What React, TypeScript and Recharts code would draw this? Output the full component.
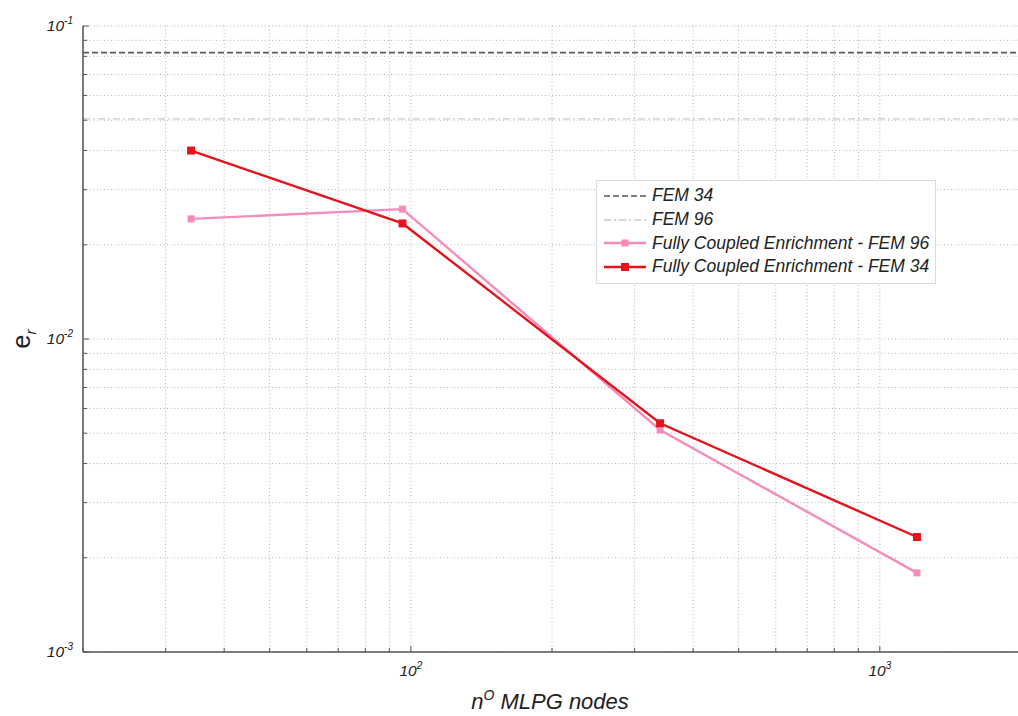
import React from 'react';
import { LineChart, Line, XAxis, YAxis, CartesianGrid, Legend, Label } from 'recharts';

// number of MLPG nodes and the relative error e_r
const nodes = [34, 96, 340, 1200];
const fce96 = [0.0242, 0.026, 0.00512, 0.00179];
const fce34 = [0.04, 0.0234, 0.00538, 0.00233];

// FEM references are flat lines over the whole x range
const xRange = [20, 2000];
const fem34 = [0.0822, 0.0822];
const fem96 = [0.0505, 0.0505];

const xTicks = [20, 30, 40, 50, 60, 70, 80, 90, 100, 200, 300, 400, 500, 600, 700, 800, 900, 1000, 2000];
const yTicks = [
  0.001, 0.002, 0.003, 0.004, 0.005, 0.006, 0.007, 0.008, 0.009,
  0.01, 0.02, 0.03, 0.04, 0.05, 0.06, 0.07, 0.08, 0.09, 0.1,
];
const xMajorTicks = [100, 1000];
const xMajorExp = ['2', '3'];
const yMajorTicks = [0.001, 0.01, 0.1];
const yMajorExp = ['-3', '-2', '-1'];

const FONT = '"Liberation Sans", Arial, sans-serif';
const AXIS = '#555';

const toPoints = (xs: number[], ys: number[]) => xs.map((x, i) => ({ x, y: ys[i] }));

const SERIES = [
  { key: 'fem34', name: 'FEM 34', data: toPoints(xRange, fem34), color: '#5a5a5a', width: 1.6, dash: '6 3', marker: 0 },
  { key: 'fem96', name: 'FEM 96', data: toPoints(xRange, fem96), color: '#d6c6cf', width: 1.4, dash: '7 3 2 3', marker: 0 },
  { key: 'fce96', name: 'Fully Coupled Enrichment - FEM 96', data: toPoints(nodes, fce96), color: '#f58cba', width: 2.4, dash: undefined, marker: 7 },
  { key: 'fce34', name: 'Fully Coupled Enrichment - FEM 34', data: toPoints(nodes, fce34), color: '#e3141c', width: 2.4, dash: undefined, marker: 8 },
];

const squareDot = (size: number, color: string) => (props: any) => {
  const { cx, cy, index } = props;
  if (cx == null || cy == null) return <g key={index} />;
  return <rect key={index} x={cx - size / 2} y={cy - size / 2} width={size} height={size} fill={color} />;
};

const BottomTick = ({ x, y, payload }: any) => {
  const i = xMajorTicks.indexOf(payload.value);
  return (
    <g>
      <line x1={x} x2={x} y1={y} y2={y - (i >= 0 ? 6 : 4)} stroke={AXIS} />
      {i >= 0 && (
        <text x={x} y={y + 24} textAnchor="middle" fontSize={15.5} fontStyle="italic" fill="#222" fontFamily={FONT}>
          10<tspan dy={-7} fontSize={10}>{xMajorExp[i]}</tspan>
        </text>
      )}
    </g>
  );
};

const TopTick = ({ x, y, payload }: any) => {
  const major = xMajorTicks.includes(payload.value);
  return <line x1={x} x2={x} y1={y} y2={y + (major ? 6 : 4)} stroke={AXIS} />;
};

const LeftTick = ({ x, y, payload }: any) => {
  const i = yMajorTicks.indexOf(payload.value);
  return (
    <g>
      <line x1={x} x2={x + (i >= 0 ? 6 : 4)} y1={y} y2={y} stroke={AXIS} />
      {i >= 0 && (
        <text x={x - 10} y={y + 5} textAnchor="end" fontSize={15.5} fontStyle="italic" fill="#222" fontFamily={FONT}>
          10<tspan dy={-7} fontSize={10}>{yMajorExp[i]}</tspan>
        </text>
      )}
    </g>
  );
};

const LegendBox = () => (
  <div
    style={{
      border: '1px solid #dcdcdc',
      background: '#fff',
      padding: '3px 6px 4px 6px',
      fontFamily: FONT,
      fontStyle: 'italic',
      fontSize: 17.5,
      color: '#222',
    }}
  >
    {SERIES.map((s) => (
      <div key={s.key} style={{ display: 'flex', alignItems: 'center', height: 23.7 }}>
        <svg width={44} height={20} style={{ marginRight: 5 }}>
          <line x1={1} x2={43} y1={10} y2={10} stroke={s.color} strokeWidth={s.width} strokeDasharray={s.dash} />
          {s.marker > 0 && (
            <rect x={22 - s.marker / 2} y={10 - s.marker / 2} width={s.marker} height={s.marker} fill={s.color} />
          )}
        </svg>
        <span>{s.name}</span>
      </div>
    ))}
  </div>
);

export default function App() {
  return (
    <div style={{ position: 'absolute', left: 0, top: 0, width: 1018, height: 716, overflow: 'hidden', background: '#fff' }}>
      <LineChart width={1030} height={716} margin={{ top: 26, right: 9, left: 0, bottom: 0 }}>
        <CartesianGrid stroke="#b4b4b4" strokeDasharray="1 2.5" />
        <XAxis
          dataKey="x"
          type="number"
          scale="log"
          domain={[20, 2000]}
          allowDataOverflow
          ticks={xTicks}
          interval={0}
          height={64}
          tickSize={0}
          tickMargin={0}
          tickLine={false}
          axisLine={{ stroke: AXIS, strokeWidth: 1.5 }}
          tick={<BottomTick />}
        >
          <Label
            content={({ viewBox }: any) => (
              <text
                x={viewBox.x + viewBox.width / 2 - 2}
                y={viewBox.y + 57}
                textAnchor="middle"
                fontSize={22}
                fontStyle="italic"
                fill="#222"
                fontFamily={FONT}
              >
                n<tspan dy={-9} fontSize={14}>O</tspan>
                <tspan dy={9}> MLPG nodes</tspan>
              </text>
            )}
          />
        </XAxis>
        <XAxis
          xAxisId="top"
          orientation="top"
          dataKey="x"
          type="number"
          scale="log"
          domain={[20, 2000]}
          allowDataOverflow
          ticks={xTicks}
          interval={0}
          height={0}
          tickSize={0}
          tickMargin={0}
          tickLine={false}
          axisLine={{ stroke: AXIS, strokeWidth: 1.5 }}
          tick={<TopTick />}
        />
        <YAxis
          dataKey="y"
          type="number"
          scale="log"
          domain={[0.001, 0.1]}
          allowDataOverflow
          ticks={yTicks}
          interval={0}
          width={83}
          tickSize={0}
          tickMargin={0}
          tickLine={false}
          axisLine={{ stroke: AXIS, strokeWidth: 1.5 }}
          tick={<LeftTick />}
        >
          <Label
            content={({ viewBox }: any) => {
              const cx = 30;
              const cy = viewBox.y + viewBox.height / 2;
              return (
                <text
                  x={cx}
                  y={cy}
                  transform={`rotate(-90 ${cx} ${cy})`}
                  textAnchor="middle"
                  fontSize={25}
                  fill="#222"
                  fontFamily={FONT}
                >
                  e<tspan dy={6} fontSize={15} fontStyle="italic">r</tspan>
                </text>
              );
            }}
          />
        </YAxis>
        <Legend
          layout="vertical"
          align="center"
          verticalAlign="middle"
          content={<LegendBox />}
          wrapperStyle={{ left: 596, top: 180, width: 'auto', height: 'auto' }}
        />
        {SERIES.map((s) => (
          <Line
            key={s.key}
            data={s.data}
            dataKey="y"
            name={s.name}
            type="linear"
            stroke={s.color}
            strokeWidth={s.width}
            strokeDasharray={s.dash}
            dot={s.marker > 0 ? squareDot(s.marker, s.color) : false}
            activeDot={false}
            isAnimationActive={false}
          />
        ))}
      </LineChart>
    </div>
  );
}
